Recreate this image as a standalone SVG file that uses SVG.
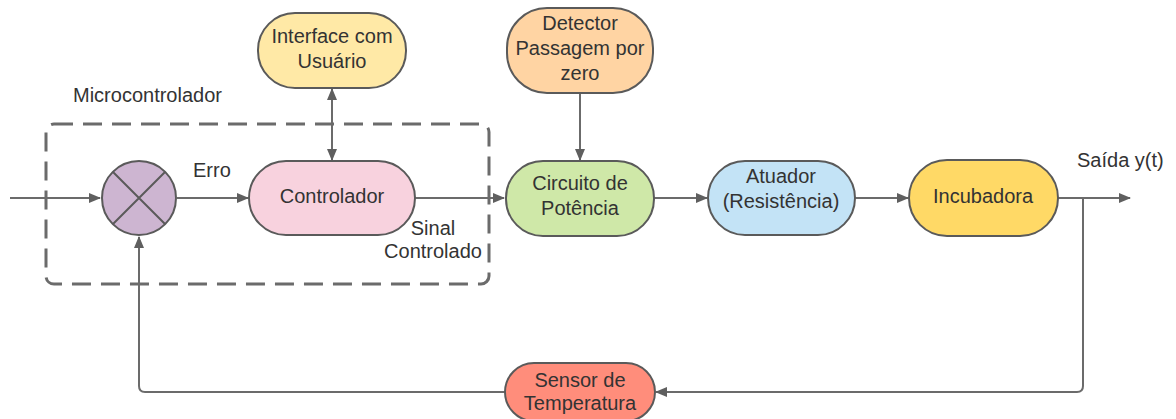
<svg xmlns="http://www.w3.org/2000/svg" width="1176" height="419" viewBox="0 0 1176 419">
<style>
text{font-family:"Liberation Sans",Arial,sans-serif;font-size:20px;fill:#333;}
.c{text-anchor:middle;}
.node{stroke:#5a5a5a;stroke-width:2;}
.conn{fill:none;stroke:#6b6b6b;stroke-width:2;}
</style>
<defs>
<marker id="ah" viewBox="0 0 12 10" refX="11" refY="5" markerWidth="12" markerHeight="10" markerUnits="userSpaceOnUse" orient="auto-start-reverse">
<path d="M0,0 L12,5 L0,10 Z" fill="#5f5f5f"/>
</marker>
</defs>
<rect width="1176" height="419" fill="#fff"/>
<g id="microcontrolador">
<rect x="46" y="124" width="443" height="160" rx="8" fill="none" stroke="#6b6b6b" stroke-width="3" stroke-dasharray="19 10"/>
<text x="73" y="102">Microcontrolador</text>
</g>
<g id="connectors">
<path class="conn" d="M10,198 H100" marker-end="url(#ah)"/>
<path class="conn" d="M177,198 H248" marker-end="url(#ah)"/>
<path class="conn" d="M332,89 V160" marker-start="url(#ah)" marker-end="url(#ah)"/>
<path class="conn" d="M415,198 H504" marker-end="url(#ah)"/>
<path class="conn" d="M580,93 V160" marker-end="url(#ah)"/>
<path class="conn" d="M654,198 H707" marker-end="url(#ah)"/>
<path class="conn" d="M855,198 H908" marker-end="url(#ah)"/>
<path class="conn" d="M1058,198 H1130" marker-end="url(#ah)"/>
<path class="conn" d="M1083,198 V386 Q1083,392 1077,392 H656" marker-end="url(#ah)"/>
<path class="conn" d="M505,392 H145 Q139,392 139,386 V237" marker-end="url(#ah)"/>
<text x="193" y="177">Erro</text>
<text class="c" x="433" y="235">Sinal</text>
<text class="c" x="433" y="258">Controlado</text>
<text x="1077" y="167">Saída y(t)</text>
</g>
<g id="somador">
<circle class="node" cx="139" cy="198" r="37" fill="#cdb5d1"/>
<path d="M113,172 L165,224 M165,172 L113,224" stroke="#5a5a5a" stroke-width="2"/>
</g>
<g id="interface">
<rect class="node" x="258" y="13" width="148" height="75" rx="37" fill="#ffe9a6"/>
<text class="c" x="332" y="43">Interface com</text>
<text class="c" x="332" y="68">Usuário</text>
</g>
<g id="controlador">
<rect class="node" x="249" y="161" width="166" height="74" rx="37" fill="#f8d2de"/>
<text class="c" x="332" y="203">Controlador</text>
</g>
<g id="detector">
<rect class="node" x="507" y="8" width="146" height="85" rx="40" fill="#ffd4a3"/>
<text class="c" x="580" y="30">Detector</text>
<text class="c" x="580" y="55">Passagem por</text>
<text class="c" x="580" y="80">zero</text>
</g>
<g id="circuito">
<rect class="node" x="506" y="161" width="148" height="75" rx="37" fill="#cfe8a8"/>
<text class="c" x="580" y="190">Circuito de</text>
<text class="c" x="580" y="215">Potência</text>
</g>
<g id="atuador">
<rect class="node" x="708" y="161" width="147" height="74" rx="37" fill="#c3e3f6"/>
<text class="c" x="781" y="183">Atuador</text>
<text class="c" x="781" y="208">(Resistência)</text>
</g>
<g id="incubadora">
<rect class="node" x="909" y="160" width="149" height="76" rx="38" fill="#ffd966"/>
<text class="c" x="983" y="203">Incubadora</text>
</g>
<g id="sensor">
<rect class="node" x="505" y="363" width="150" height="58" rx="29" fill="#ff8d7b"/>
<text class="c" x="580" y="387">Sensor de</text>
<text class="c" x="580" y="410">Temperatura</text>
</g>
</svg>
